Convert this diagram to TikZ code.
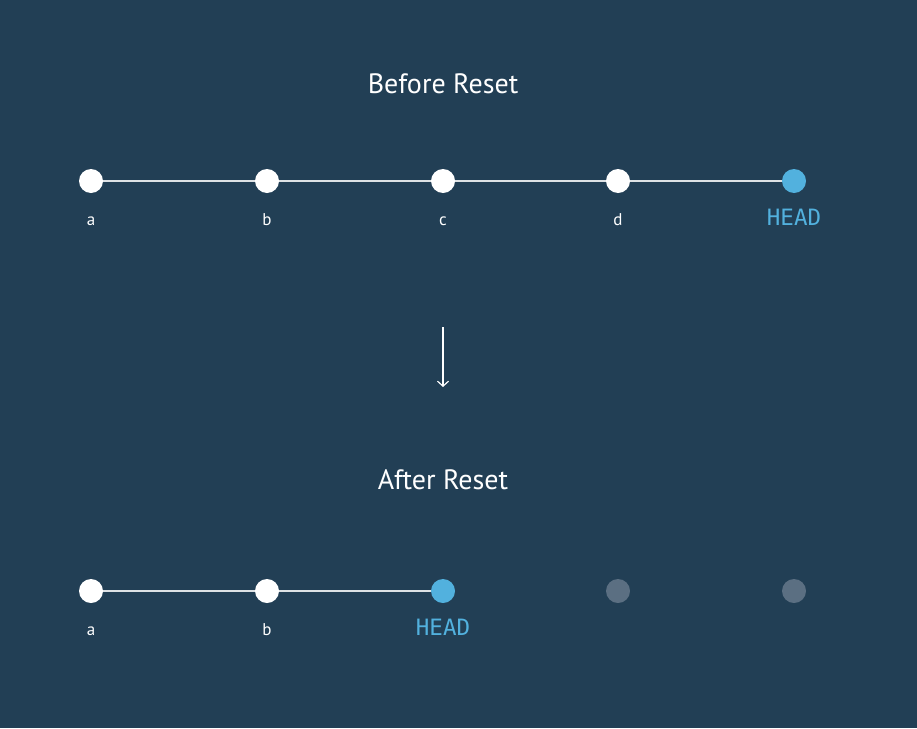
\documentclass[tikz,border=0pt]{standalone}
\usepackage{fontspec}
\setmainfont{PT Sans}
\newfontfamily\headfont{DejaVu Sans Mono}
\usetikzlibrary{arrows.meta}
\definecolor{bg}{HTML}{223F55}
\definecolor{headblue}{HTML}{52B1DE}
\definecolor{ghost}{HTML}{5B6F82}
\tikzset{
  commit/.style={circle, fill=white, minimum size=24pt, inner sep=0pt},
  headc/.style={circle, fill=headblue, minimum size=24pt, inner sep=0pt},
  ghostc/.style={circle, fill=ghost, minimum size=24pt, inner sep=0pt},
  lbl/.style={text=white, font=\fontsize{17}{20}\selectfont, inner sep=0pt, anchor=base},
  headlbl/.style={text=headblue, font=\headfont\fontsize{22.5}{26}\selectfont, inner sep=0pt, anchor=base},
  title/.style={text=white, font=\fontsize{28}{32}\selectfont, inner sep=0pt, anchor=base},
  link/.style={draw=white!85!bg, line width=1.4pt},
}
\begin{document}
\begin{tikzpicture}[x=1pt,y=-1pt]
\fill[bg] (0,0) rectangle (917,728);
\useasboundingbox (0,0) rectangle (917,728);
\node[title] (t1) at (443,93.5) {Before Reset};
\node[title] (t2) at (443,489.5) {After Reset};
% row 1
\node[commit] (a1) at (91,181) {};
\node[commit] (b1) at (267,181) {};
\node[commit] (c1) at (443,181) {};
\node[commit] (d1) at (618,181) {};
\node[headc] (h1) at (794,181) {};
\draw[link] (a1) -- (b1);
\draw[link] (b1) -- (c1);
\draw[link] (c1) -- (d1);
\draw[link] (d1) -- (h1);
\node[lbl] (la1) at (91,225.5) {a};
\node[lbl] (lb1) at (267,225.5) {b};
\node[lbl] (lc1) at (443,225.5) {c};
\node[lbl] (ld1) at (618,225.5) {d};
\node[headlbl] (lh1) at (794,225) {HEAD};
% arrow
\coordinate (as) at (443,327);
\coordinate (ae) at (443,387);
\draw[white, line width=1.2pt, -{Straight Barb[length=5pt,width=11pt]}] (as) -- (ae);
% row 2
\node[commit] (a2) at (91,591) {};
\node[commit] (b2) at (267,591) {};
\node[headc] (h2) at (443,591) {};
\node[ghostc] (g1) at (618,591) {};
\node[ghostc] (g2) at (794,591) {};
\draw[link] (a2) -- (b2);
\draw[link] (b2) -- (h2);
\node[lbl] (la2) at (91,635.5) {a};
\node[lbl] (lb2) at (267,635.5) {b};
\node[headlbl] (lh2) at (443,635) {HEAD};
\end{tikzpicture}
\end{document}
